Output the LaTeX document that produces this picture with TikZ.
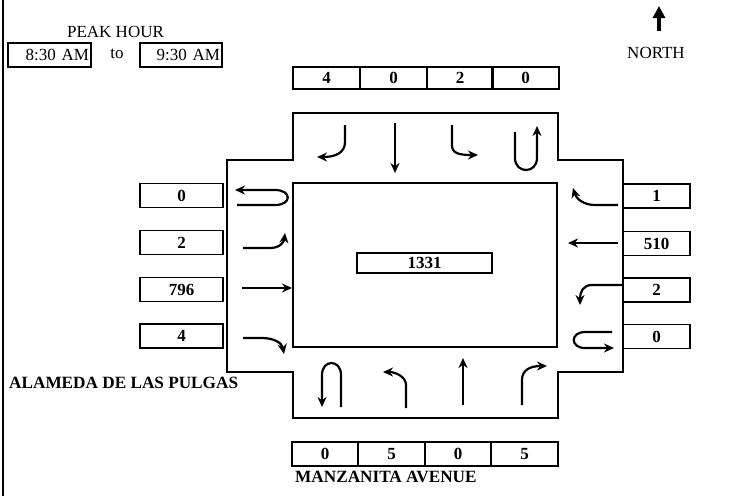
\documentclass[tikz,border=0pt]{standalone}
\usepackage{fontspec}
\setmainfont{Liberation Serif}
\usetikzlibrary{arrows.meta}
\begin{document}
\begin{tikzpicture}[x=1pt,y=-1pt,
  every node/.style={font=\fontsize{17}{19}\selectfont},
  cbox/.style={draw,line width=1.6pt,inner sep=0pt,font=\fontsize{17}{19}\selectfont\bfseries},
  tbox/.style={draw,line width=1.5pt,inner sep=2pt,minimum height=24pt,align=right},
  mv/.style={line width=2.2pt,-{Stealth[length=10pt,width=9pt]}},
  lbl/.style={font=\fontsize{17.2}{19}\selectfont\bfseries,inner sep=0pt}]
\useasboundingbox (0,0) rectangle (743,496);
\fill[white] (0,0) rectangle (743,496);
% left border
\draw[line width=2.5pt] (3,0) -- (3,496);
% peak hour
\node (peak) at (115.5,32) {PEAK HOUR};
\node[tbox,text width=79pt] (t1) at (49.5,55) {8:30 AM};
\node (to) at (117,54) {to};
\node[tbox,text width=78pt] (t2) at (181,55) {9:30 AM};
% north
\coordinate (nb) at (659,31);
\coordinate (nt) at (659,6);
\draw[line width=3.5pt,-{Triangle[length=12pt,width=12pt]}] (nb) -- (nt);
\node (north) at (656,53) {NORTH};
% intersection outline
\draw[line width=1.6pt] (293,113) -- (558,113) -- (558,160) -- (623,160) -- (623,372) -- (558,372) -- (558,418) -- (293,418) -- (293,372) -- (227,372) -- (227,160) -- (293,160) -- cycle;
\draw[line width=1.4pt] (293,183) rectangle (557,347);
\node[cbox,line width=2pt,minimum width=135pt,minimum height=20pt] (tot) at (424.5,263) {1331};
% top counts
\foreach \x/\v/\n in {326.5/4/n1,393.5/0/n2,460/2/n3,525.5/0/n4}
  \node[cbox,minimum width=66.5pt,minimum height=22pt] (\n) at (\x,78) {\v};
% bottom counts
\foreach \x/\v/\n in {325/0/s1,391.5/5/s2,458/0/s3,524.5/5/s4}
  \node[cbox,minimum width=66.5pt,minimum height=24pt] (\n) at (\x,454) {\v};
% left counts
\foreach \y/\v/\n in {195.5/0/w1,242.5/2/w2,289.5/796/w3,336/4/w4}
  \node[cbox,minimum width=83pt,minimum height=24pt] (\n) at (181.5,\y) {\v};
% right counts
\foreach \y/\v/\n in {196/1/e1,243.5/510/e2,290/2/e3,336.5/0/e4}
  \node[cbox,minimum width=67pt,minimum height=24pt] (\n) at (656.5,\y) {\v};
% street names
\node[lbl,anchor=west] (alameda) at (9,383) {ALAMEDA DE LAS PULGAS};
\node[lbl,anchor=west] (manz) at (295,477) {MANZANITA AVENUE};
% southbound movements
\draw[mv] (345,125) -- (345,142) .. controls (345,153) and (335,157) .. (317,157);
\draw[mv] (395,123) -- (395,173);
\draw[mv] (452,125) -- (452,145) .. controls (452,153) and (458,155) .. (478,155);
\draw[mv] (515,132) -- (515,158) .. controls (515,174) and (537,174) .. (537,158) -- (537,126);
% eastbound movements
\draw[mv] (237,205) -- (275,205) .. controls (292,205) and (292,190) .. (275,190) -- (235,190);
\draw[mv] (243,248) -- (270,248) .. controls (280,248) and (284,242) .. (285,233);
\draw[mv] (242,288) -- (292,288);
\draw[mv] (243,338) -- (262,338) .. controls (274,338) and (282,343) .. (284,354);
% westbound movements
\draw[mv] (618,205) -- (595,205) .. controls (583,205) and (576,198) .. (573,188);
\draw[mv] (618,243) -- (568,243);
\draw[mv] (622,285) -- (592,285) .. controls (583,285) and (580,292) .. (580,305);
\draw[mv] (612,332) -- (585,332) .. controls (570,332) and (570,348) .. (585,348) -- (614,348);
% northbound movements
\draw[mv] (341,407) -- (341,375) .. controls (341,359) and (322,359) .. (322,375) -- (322,407);
\draw[mv] (406,408) -- (406,385) .. controls (406,377) and (396,372) .. (383,372);
\draw[mv] (463,405) -- (463,358);
\draw[mv] (522,405) -- (522,380) .. controls (522,370) and (530,366) .. (547,366);
\end{tikzpicture}
\end{document}
